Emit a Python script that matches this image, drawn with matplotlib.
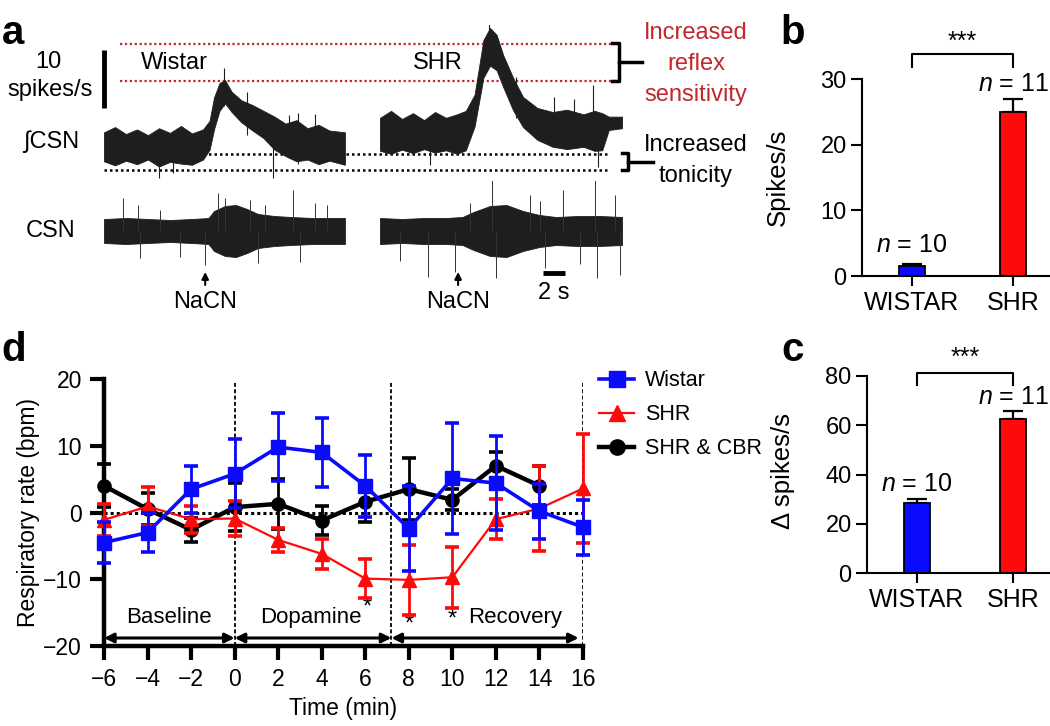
import numpy as np
import matplotlib
matplotlib.use("Agg")
import matplotlib.pyplot as plt
from matplotlib.lines import Line2D

plt.rcParams['font.family'] = ['Liberation Sans', 'DejaVu Sans']
plt.rcParams['mathtext.fontset'] = 'custom'
plt.rcParams['mathtext.rm'] = 'Liberation Sans'
plt.rcParams['mathtext.it'] = 'Liberation Sans:italic'

# ================= DATA =================
# ---- panel a: integrated CSN (spikes/s) envelopes, time in s ----
int_wistar_t = [0.0, 1.0, 2.0, 3.0, 4.0, 5.0, 6.0, 7.0, 8.0, 9.0, 9.6, 10.0, 10.5, 11.0, 11.6,
                12.5, 13.5, 14.5, 15.5, 16.5, 17.5, 18.5, 19.5, 20.5, 21.9]
int_wistar_hi = [6.5, 7.4, 6.2, 7.0, 6.0, 7.2, 6.4, 7.6, 6.3, 7.0, 8.5, 12.5, 15.0, 15.5, 13.5,
                 12.0, 11.2, 10.2, 9.2, 8.0, 8.6, 7.2, 7.8, 6.8, 6.5]
int_wistar_lo = [1.5, 0.8, 1.6, 1.0, 1.8, 0.6, 1.4, 1.1, 0.9, 1.8, 3.5, 7.0, 10.2, 11.5, 10.0,
                 8.2, 6.8, 5.5, 3.5, 2.4, 1.5, 1.8, 1.0, 1.6, 0.9]
int_shr_t = [0.0, 1.0, 2.0, 3.0, 4.0, 5.0, 6.0, 7.0, 7.8, 8.6, 9.4, 10.0, 10.6, 11.2, 12.1,
             13.0, 14.3, 15.7, 17.0, 18.5, 19.5, 20.2, 20.8, 22.0]
int_shr_hi = [9.0, 10.2, 8.8, 9.8, 8.6, 10.0, 9.0, 9.6, 10.2, 13.0, 22.4, 24.5, 23.3, 19.8, 15.9,
              12.6, 10.7, 10.0, 10.4, 9.6, 10.2, 9.8, 9.2, 9.2]
int_shr_lo = [3.3, 2.8, 3.5, 2.9, 3.6, 3.0, 3.4, 2.8, 3.4, 7.5, 15.9, 18.0, 17.2, 14.3, 10.3,
              7.4, 5.2, 4.0, 3.6, 4.0, 3.3, 3.4, 6.9, 7.2]
# single large deflections (time, low, high)
int_wistar_spk_t = [10.9, 16.8, 17.6, 19.2, 5.0, 15.4, 6.3, 13.0]
int_wistar_spk_lo = [11.0, 2.0, 1.0, 1.5, -1.3, -1.3, -0.5, 6.0]
int_wistar_spk_hi = [17.6, 9.5, 9.8, 9.6, 5.0, 4.0, 4.0, 13.5]
int_shr_spk_t = [9.9, 19.4, 15.8, 17.6, 4.5, 19.8, 12.4]
int_shr_spk_lo = [18.0, 4.0, 4.0, 4.0, 0.8, 0.5, 9.0]
int_shr_spk_hi = [25.8, 14.6, 12.6, 12.2, 5.0, 5.0, 16.0]

# ---- panel a: raw CSN envelopes (half amplitude, a.u.) ----
csn_wistar_t = [0, 2, 4, 6, 8, 9.5, 10.0, 11.0, 12.0, 13.0, 14.0, 15.5, 17.0, 19.0, 21.9]
csn_wistar_half = [12, 13, 12, 11, 12, 13, 20, 25, 26, 22, 17, 15, 14, 13, 13]
csn_shr_t = [0, 2, 4, 6, 7.5, 8.5, 10.0, 11.5, 13.0, 14.5, 16.0, 18.0, 20.0, 22.0]
csn_shr_half = [13, 12, 13, 13, 14, 19, 25, 26, 20, 16, 14, 15, 15, 14]
csn_wistar_spk_t = [1.7, 3.1, 5.1, 10.4, 11.0, 13.3, 14.6, 17.2, 20.3, 19.2, 9.2, 3.3, 17.8, 6.9, 14.0]
csn_wistar_spk_v = [33, 26, 21, 38, 33, 31, 26, 41, 26, 28, -34, -27, -31, -26, -32]
csn_shr_spk_t = [10.2, 13.6, 16.6, 19.5, 21.4, 14.5, 8.2, 4.4, 6.8, 10.5, 15.0, 19.7, 21.8, 18.2, 1.8]
csn_shr_spk_v = [63, 36, 41, 51, 36, 30, 28, -46, -41, -47, -37, -47, -44, -33, -30]
nacn_t = [9.2, 7.1]          # Wistar, SHR
scale_spikes = 10            # spikes/s
scale_time = 2               # s

# ---- panel b / c ----
groups = ['WISTAR', 'SHR']
b_mean = [1.5, 25.0]
b_sem = [0.3, 1.9]
c_mean = [28.6, 62.5]
c_sem = [1.6, 3.1]
n_animals = [10, 11]

# ---- panel d ----
time_min = [-6, -4, -2, 0, 2, 4, 6, 8, 10, 12, 14, 16]
wistar_mean = [-4.5, -3.0, 3.5, 5.8, 9.8, 9.0, 4.0, -2.4, 5.1, 4.4, 0.2, -2.2]
wistar_sem = [3.1, 2.9, 3.5, 5.2, 5.1, 5.2, 4.6, 6.3, 8.3, 7.0, 4.1, 4.1]
shr_mean = [-1.1, 0.9, -1.0, -0.9, -4.1, -6.2, -9.9, -10.1, -9.7, -1.0, 0.6, 3.6]
shr_sem = [2.4, 2.9, 2.0, 2.6, 1.8, 2.3, 2.9, 5.2, 4.6, 3.0, 6.3, 8.2]
cbr_time = [-6, -4, -2, 0, 2, 4, 6, 8, 10, 12, 14]
cbr_mean = [4.0, 0.5, -2.6, 0.8, 1.3, -1.2, 1.6, 3.5, 1.9, 7.0, 4.0]
cbr_sem = [3.2, 2.4, 1.8, 3.6, 3.7, 2.1, 3.0, 4.6, 1.6, 2.0, 2.9]
phase_bounds = [-6, 0, 7.2, 16]
phase_names = ['Baseline', 'Dopamine', 'Recovery']
signif_t = [6, 8, 10]

# ================= FIGURE =================
W, H = 1050, 726
fig = plt.figure(figsize=(10.5, 7.26), dpi=100)


def rect(x0, y0, x1, y1):
    return [x0 / W, 1 - y1 / H, (x1 - x0) / W, (y1 - y0) / H]


DARKRED = '#c1272d'
TRACE = '#1e1e1e'
BLUE = '#0a0aff'
RED = '#ff0a0a'

# overlay for annotations (pixel coordinates)
axa = fig.add_axes([0, 0, 1, 1])
axa.set_xlim(0, W)
axa.set_ylim(H, 0)
axa.axis('off')

# ---------- panel a traces ----------
ax_iw = fig.add_axes(rect(104, 25, 346, 181.6))
ax_is = fig.add_axes(rect(380, 25, 622, 181.6))
ax_cw = fig.add_axes(rect(104, 181, 346, 281))
ax_cs = fig.add_axes(rect(380, 181, 622, 281))
for ax in (ax_iw, ax_is):
    ax.set_xlim(0, 22)
    ax.set_ylim(-2, 25)
for ax in (ax_cw, ax_cs):
    ax.set_xlim(0, 22)
    ax.set_ylim(-50, 50)
for ax in (ax_iw, ax_is, ax_cw, ax_cs):
    ax.axis('off')
    ax.set_facecolor('none')

ax_iw.fill_between(int_wistar_t, int_wistar_lo, int_wistar_hi, color=TRACE, lw=0.6)
ax_iw.vlines(int_wistar_spk_t, int_wistar_spk_lo, int_wistar_spk_hi, color=TRACE, lw=0.8)
ax_is.fill_between(int_shr_t, int_shr_lo, int_shr_hi, color=TRACE, lw=0.6)
ax_is.vlines(int_shr_spk_t, int_shr_spk_lo, int_shr_spk_hi, color=TRACE, lw=0.8)

cw_half = np.array(csn_wistar_half)
ax_cw.fill_between(csn_wistar_t, -cw_half, cw_half, color=TRACE, lw=0.6)
ax_cw.vlines(csn_wistar_spk_t, 0, csn_wistar_spk_v, color='#333333', lw=0.7)
cs_half = np.array(csn_shr_half)
ax_cs.fill_between(csn_shr_t, -cs_half, cs_half, color=TRACE, lw=0.6)
ax_cs.vlines(csn_shr_spk_t, 0, csn_shr_spk_v, color='#333333', lw=0.7)

# scale bars
ax_iw.plot([0, 0], [10.7, 10.7 + scale_spikes], color='k', lw=3.5, clip_on=False,
           solid_capstyle='butt')
ax_cs.plot([14.8, 14.8 + scale_time], [-42, -42], color='k', lw=3.5, clip_on=False,
           solid_capstyle='butt')
ax_cs.text(14.8 + scale_time / 2, -62, f'{scale_time} s', ha='center', va='center', fontsize=17)

# NaCN arrows
for ax, tt in ((ax_cw, nacn_t[0]), (ax_cs, nacn_t[1])):
    ax.annotate('', xy=(tt, -41), xytext=(tt, -54), annotation_clip=False,
                arrowprops=dict(arrowstyle='-|>', color='k', lw=1.5, mutation_scale=10,
                                shrinkA=0, shrinkB=0))
    ax.text(tt, -71, 'NaCN', ha='center', va='center', fontsize=17)

# annotations in pixel space
axa.hlines([44, 81], 120, 617, colors=DARKRED, linestyles=(0, (1, 1.2)), lw=1.6)
axa.hlines([154, 170], 104, 610, colors='k', linestyles=(0, (1, 1.2)), lw=1.8)
# bracket reflex
axa.plot([612, 619, 619, 612], [43, 43, 81, 81], color='k', lw=2.5)
axa.plot([619, 642], [62, 62], color='k', lw=2.5)
# bracket tonicity
axa.plot([622, 628, 628, 622], [153, 153, 170, 170], color='k', lw=2.5)
axa.plot([628, 653], [162, 162], color='k', lw=2.5)

axa.text(13, 33, 'a', fontsize=29, fontweight='bold', ha='center', va='center')
axa.text(48, 62, '10', fontsize=17, ha='center', va='center')
axa.text(50, 90, 'spikes/s', fontsize=17, ha='center', va='center')
axa.text(174, 63, 'Wistar', fontsize=17, ha='center', va='center')
axa.text(438, 63, 'SHR', fontsize=17, ha='center', va='center')
axa.text(51, 142, '\u222bCSN', fontsize=17, ha='center', va='center')
axa.text(51, 231, 'CSN', fontsize=17, ha='center', va='center')
for txt, yy in (('Increased', 33), ('reflex', 64), ('sensitivity', 95)):
    axa.text(696, yy, txt, fontsize=17, color=DARKRED, ha='center', va='center')
axa.text(696, 145, 'Increased', fontsize=17, ha='center', va='center')
axa.text(696, 176, 'tonicity', fontsize=17, ha='center', va='center')
axa.text(793, 33, 'b', fontsize=29, fontweight='bold', ha='center', va='center')
axa.text(793, 350, 'c', fontsize=29, fontweight='bold', ha='center', va='center')
axa.text(14, 350, 'd', fontsize=29, fontweight='bold', ha='center', va='center')

# ---------- panels b, c ----------
bar_colors = [BLUE, RED]


def bar_panel(ax, means, sems, ymax, yticks, xl, bw, br_lo, br_hi, star_y, n_y):
    x = np.arange(len(groups))
    ax.bar(x, means, width=bw, color=bar_colors, edgecolor='k', lw=1.3, zorder=2)
    ax.errorbar(x, means, yerr=[[0] * len(x), sems], fmt='none', ecolor='k',
                elinewidth=1.6, capsize=7, capthick=1.6, zorder=1)
    ax.set_xlim(*xl)
    ax.set_ylim(0, ymax)
    ax.set_yticks(yticks)
    ax.set_xticks(x)
    ax.set_xticklabels(groups, fontsize=18)
    ax.tick_params(axis='y', labelsize=17, length=8, width=1.5, pad=3)
    ax.tick_params(axis='x', length=7, width=1.5, pad=4)
    for s in ('top', 'right'):
        ax.spines[s].set_visible(False)
    for s in ('left', 'bottom'):
        ax.spines[s].set_linewidth(1.5)
    ax.plot([0, 0, 1, 1], [br_lo, br_hi, br_hi, br_lo], color='k', lw=1.5, clip_on=False)
    ax.text(0.5, star_y, '***', ha='center', va='center', fontsize=18)
    for i in range(len(x)):
        ax.text(x[i], n_y[i], f'$n$ = {n_animals[i]}', ha='center', va='center',
                fontsize=18, clip_on=False)
    ax.set_facecolor('none')


axb = fig.add_axes(rect(862, 79, 1050, 276))
bar_panel(axb, b_mean, b_sem, 30, [0, 10, 20, 30], (-0.495, 1.366), 0.26,
          31.8, 33.8, 35.7, [4.7, 29.3])
axb.set_ylabel('Spikes/s', fontsize=18.5)
axb.yaxis.set_label_coords(-72 / 188, 0.5)

axc = fig.add_axes(rect(867, 376, 1050, 573))
bar_panel(axc, c_mean, c_sem, 80, [0, 20, 40, 60, 80], (-0.52, 1.385), 0.28,
          76.3, 81.3, 87.5, [36.3, 71.5])
axc.set_ylabel('\u0394 spikes/s', fontsize=18.5)
axc.yaxis.set_label_coords(-72 / 183, 0.52)

# ---------- panel d ----------
axd = fig.add_axes(rect(104, 379, 583, 646))
axd.set_facecolor('none')
axd.set_xlim(-6, 16)
axd.set_ylim(-20, 20)
axd.hlines(0, -6, 16, colors='k', linestyles=(0, (1, 1)), lw=2.2, zorder=1)
axd.vlines(phase_bounds[1:], -20, 19.5, colors='k', linestyles=(0, (2.2, 1.3)), lw=1.3,
           zorder=1)


def series(x, m, e, color, marker, lw, ms, z):
    cont = axd.errorbar(x, m, yerr=e, color=color, marker=marker, ms=ms, lw=lw,
                        elinewidth=2.0, capsize=5, capthick=2.6, zorder=z, clip_on=False)
    for art in list(cont[1]) + list(cont[2]):
        art.set_clip_on(False)
    return cont


series(cbr_time, cbr_mean, cbr_sem, 'k', 'o', 3.2, 9.5, 3)
series(time_min, shr_mean, shr_sem, RED, '^', 1.6, 9.5, 4)
series(time_min, wistar_mean, wistar_sem, BLUE, 's', 2.6, 9.5, 5)

for a, b in zip(phase_bounds[:-1], phase_bounds[1:]):
    axd.annotate('', xy=(a, -18.8), xytext=(b - (0.2 if b == 16 else 0), -18.8),
                 arrowprops=dict(arrowstyle='<|-|>', color='k', lw=2.2, mutation_scale=14,
                                 shrinkA=0, shrinkB=0))
axd.text(-3.0, -15.7, phase_names[0], ha='center', va='center', fontsize=16)
axd.text(3.5, -15.7, phase_names[1], ha='center', va='center', fontsize=16)
axd.text(12.9, -15.7, phase_names[2], ha='center', va='center', fontsize=16)
for tt, yy in zip(signif_t, [-14.3, -16.8, -16.0]):
    axd.text(tt + (0.1 if tt == 6 else 0), yy, '*', ha='center', va='center', fontsize=17)

axd.set_xticks(time_min)
axd.set_xticklabels([str(v).replace('-', '\u2212') for v in time_min])
axd.set_yticks([-20, -10, 0, 10, 20])
axd.set_yticklabels(['\u221220', '\u221210', '0', '10', '20'])
axd.tick_params(labelsize=16.5, length=10, width=3, pad=6)
for s in ('top', 'right'):
    axd.spines[s].set_visible(False)
for s in ('left', 'bottom'):
    axd.spines[s].set_linewidth(3.2)
axd.set_xlabel('Time (min)', fontsize=16.5, labelpad=4)
axd.set_ylabel('Respiratory rate (bpm)', fontsize=16.5, labelpad=2)

handles = [Line2D([], [], color=BLUE, marker='s', lw=2.6, ms=11),
           Line2D([], [], color=RED, marker='^', lw=1.6, ms=11),
           Line2D([], [], color='k', marker='o', lw=3.2, ms=11)]
fig.legend(handles, ['Wistar', 'SHR', 'SHR & CBR'], loc='upper left',
           bbox_to_anchor=(580 / W, 1 - 351 / H), frameon=False, fontsize=15.5,
           handlelength=1.6, labelspacing=0.6, handletextpad=0.5)

fig.savefig('out.png', dpi=100)
